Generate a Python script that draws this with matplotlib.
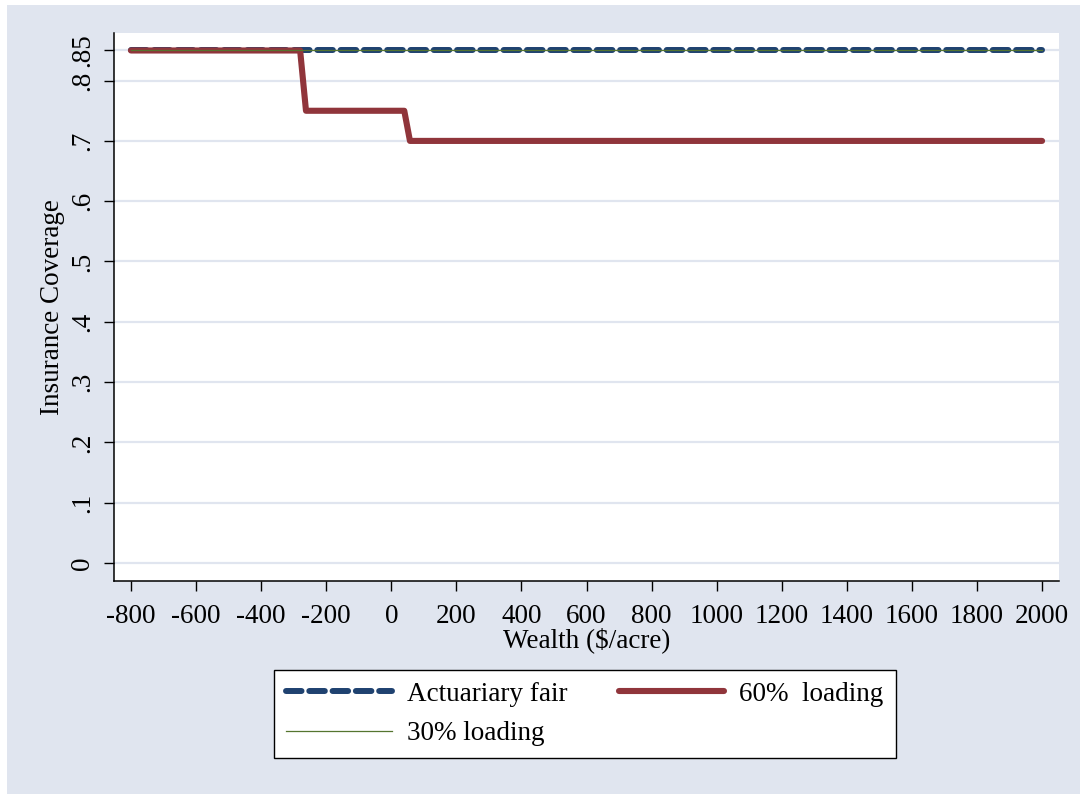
import matplotlib.pyplot as plt
from matplotlib.patches import Rectangle

plt.rcParams['font.family'] = ['Liberation Serif', 'DejaVu Serif']
plt.rcParams['axes.unicode_minus'] = False

# wealth grid and optimal coverage under each premium loading
fair_x = [-800, 2000]
fair_y = [0.85, 0.85]
load60_x = [-800, -280, -262, 40, 57.5, 2000]
load60_y = [0.85, 0.85, 0.75, 0.75, 0.70, 0.70]
load30_x = [-800, 2000]
load30_y = [0.85, 0.85]

xticks = list(range(-800, 2001, 200))
yticks = [0, 0.1, 0.2, 0.3, 0.4, 0.5, 0.6, 0.7, 0.8, 0.85]
ytick_labels = ["0", ".1", ".2", ".3", ".4", ".5", ".6", ".7", ".8", ".85"]

bg = "#E0E5EF"
navy = "#1F4270"
maroon = "#90353B"
green = "#55752F"
fs = 19.5

fig = plt.figure(figsize=(10.8, 7.94), dpi=100)
fig.patch.set_facecolor("white")
fig.patches.append(Rectangle((7 / 1080, 0), 1, 1 - 5 / 794, transform=fig.transFigure,
                             facecolor=bg, edgecolor="none", zorder=-10))

ax = fig.add_axes([114 / 1080, 1 - 581 / 794, 945 / 1080, 548 / 794])
ax.set_facecolor("white")

ax.plot(fair_x, fair_y, color=navy, lw=4.3, dashes=(2.6, 1.3),
        dash_capstyle="round", solid_capstyle="round", label="Actuariary fair", zorder=3)
ax.plot(load60_x, load60_y, color=maroon, lw=4.4, solid_capstyle="round",
        solid_joinstyle="round", label="60%  loading", zorder=4)
ax.plot(load30_x, load30_y, color=green, lw=0.9, label="30% loading", zorder=5)

ax.set_xlim(-852, 2052)
ax.set_ylim(-0.03, 0.879)
ax.set_xticks(xticks)
ax.set_yticks(yticks)
ax.set_yticklabels(ytick_labels, rotation=90, va="center")
ax.tick_params(axis="both", labelsize=fs, length=7.5, width=1, direction="out")
ax.tick_params(axis="x", pad=9)
ax.tick_params(axis="y", pad=6)
ax.grid(axis="y", color=bg, lw=1.6, zorder=0)
ax.set_axisbelow(True)
for s in ["top", "right"]:
    ax.spines[s].set_visible(False)
for s in ["left", "bottom"]:
    ax.spines[s].set_linewidth(1.1)

ax.set_xlabel("Wealth (\\$/acre)", fontsize=fs, labelpad=-1)
ax.set_ylabel("Insurance Coverage", fontsize=fs, labelpad=4)

h, l = ax.get_legend_handles_labels()
order = [0, 2, 1]
leg = fig.legend([h[i] for i in order], [l[i] for i in order], ncol=2,
                 loc="center", bbox_to_anchor=(585 / 1080, 1 - 714 / 794),
                 fontsize=fs, frameon=True, fancybox=False, edgecolor="black",
                 facecolor="white", framealpha=1,
                 handlelength=3.9, handletextpad=0.55, columnspacing=1.9,
                 borderpad=0.44, labelspacing=0.52, borderaxespad=0)
leg.get_frame().set_linewidth(1.0)

fig.savefig("out.png", dpi=100, facecolor=fig.get_facecolor())
